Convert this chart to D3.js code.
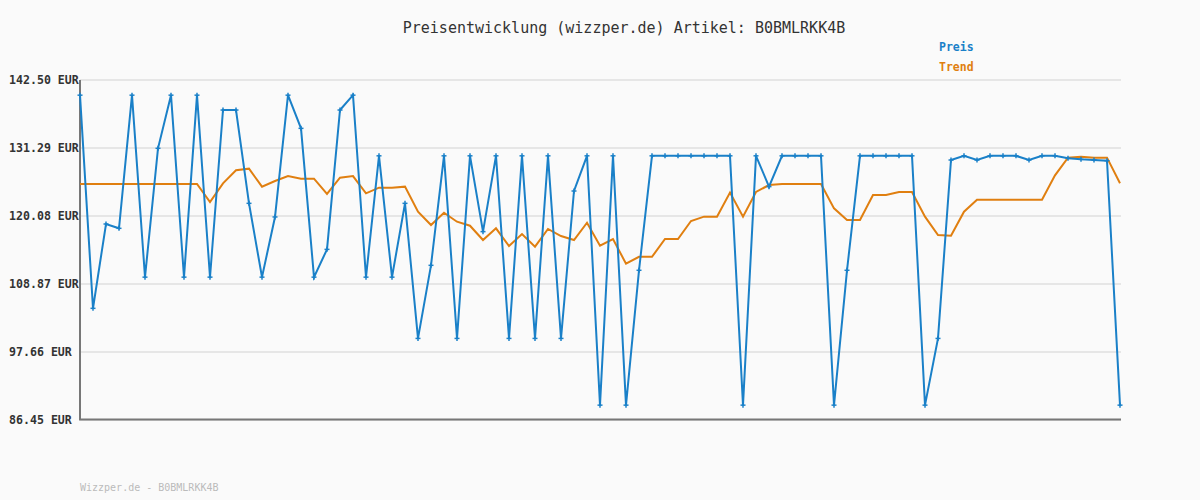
<!DOCTYPE html>
<html><head><meta charset="utf-8">
<script src="https://cdn.jsdelivr.net/npm/d3@7"></script>
<style>body{margin:0;background:#fafafa;}svg{display:block;}</style>
</head><body><svg id="c" width="1200" height="500"></svg>
<script>
const title = "Preisentwicklung (wizzper.de) Artikel: B0BMLRKK4B";
const footer = "Wizzper.de - B0BMLRKK4B";
const seriesNames = ["Preis", "Trend"];
const yTicks = [86.45, 97.66, 108.87, 120.08, 131.29, 142.50];
const preis = [140.0,104.86,118.76,118.05,140.0,110.0,131.24,140.0,110.0,140.0,
  110.0,137.55,137.55,122.17,110.0,119.92,140.0,134.53,110.0,114.58,
  137.55,140.0,110.0,130.0,110.0,122.17,99.9,111.95,130.0,99.9,
  130.0,117.5,130.0,99.9,130.0,99.9,130.0,99.9,124.2,130.0,
  88.9,130.0,88.9,111.13,130.0,130.0,130.0,130.0,130.0,130.0,
  130.0,88.9,130.0,124.92,130.0,130.0,130.0,130.0,88.9,111.13,
  130.0,130.0,130.0,130.0,130.0,88.9,99.9,129.31,130.0,129.31,
  130.0,130.0,130.0,129.31,130.0,130.0,129.59,129.42,129.31,129.2,
  88.9];
const trend = [125.36,125.36,125.36,125.36,125.36,125.36,125.36,125.36,125.36,125.36,
  122.39,125.47,127.61,127.88,124.92,125.85,126.67,126.23,126.23,123.71,
  126.4,126.67,123.82,124.75,124.75,124.92,120.79,118.6,120.63,119.14,
  118.48,116.12,118.05,115.13,117.11,115.02,117.94,116.78,116.12,118.97,
  115.19,116.29,112.22,113.35,113.35,116.29,116.29,119.26,119.97,119.97,
  123.93,119.97,124.04,125.19,125.36,125.36,125.36,125.36,121.34,119.42,
  119.42,123.54,123.54,124.04,124.04,119.97,116.95,116.84,120.79,122.77,
  122.77,122.77,122.77,122.77,122.77,126.78,129.7,129.86,129.7,129.7,
  125.47];
const categories = d3.range(1, preis.length + 1);

const svg = d3.select("#c");
const mono = "'DejaVu Sans Mono', monospace";
const blue = "#1a80c8", orange = "#e07f10";

const x = d3.scalePoint().domain(categories).range([80, 1120]);
const y = d3.scaleLinear().domain([86.45, 142.50]).range([420, 80]);

// grid
svg.append("g").selectAll("line").data(yTicks).join("line")
  .attr("x1", 80).attr("x2", 1121)
  .attr("y1", d => y(d)).attr("y2", d => y(d))
  .attr("stroke", "#e6e6e6").attr("stroke-width", 2);

// y labels
svg.append("g").selectAll("text").data(yTicks).join("text")
  .attr("x", 9).attr("y", d => y(d) + 4)
  .attr("font-family", mono).attr("font-size", 11.6).attr("font-weight", "bold")
  .attr("fill", "#333")
  .text(d => d.toFixed(2) + " EUR");

// axes lines
svg.append("line").attr("x1", 80).attr("x2", 80).attr("y1", 80).attr("y2", 420)
  .attr("stroke", "#777").attr("stroke-width", 2);
svg.append("line").attr("x1", 79).attr("x2", 1121).attr("y1", 419.5).attr("y2", 419.5)
  .attr("stroke", "#777").attr("stroke-width", 2);

const line = d3.line().x((d, i) => x(categories[i])).y(d => y(d));

svg.append("path").datum(trend).attr("d", line)
  .attr("fill", "none").attr("stroke", orange).attr("stroke-width", 2);
svg.append("path").datum(preis).attr("d", line)
  .attr("fill", "none").attr("stroke", blue).attr("stroke-width", 2);

// markers (plus)
const mk = svg.append("g").attr("stroke", blue).attr("stroke-width", 1.5);
preis.forEach((v, i) => {
  const cx = x(categories[i]), cy = y(v);
  mk.append("line").attr("x1", cx - 2.5).attr("x2", cx + 2.5).attr("y1", cy).attr("y2", cy);
  mk.append("line").attr("x1", cx).attr("x2", cx).attr("y1", cy - 2.5).attr("y2", cy + 2.5);
});

// title
svg.append("text").attr("x", 624).attr("y", 33).attr("text-anchor", "middle")
  .attr("font-family", mono).attr("font-size", 15).attr("fill", "#333")
  .text(title);

// legend
svg.append("g").selectAll("text").data(seriesNames).join("text")
  .attr("x", 939).attr("y", (d, i) => 51 + i * 20)
  .attr("font-family", mono).attr("font-size", 11.5).attr("font-weight", "bold")
  .attr("fill", (d, i) => i === 0 ? blue : orange)
  .text(d => d);

// footer
svg.append("text").attr("x", 80).attr("y", 491)
  .attr("font-family", mono).attr("font-size", 10).attr("fill", "#bbb")
  .text(footer);
</script></body></html>
